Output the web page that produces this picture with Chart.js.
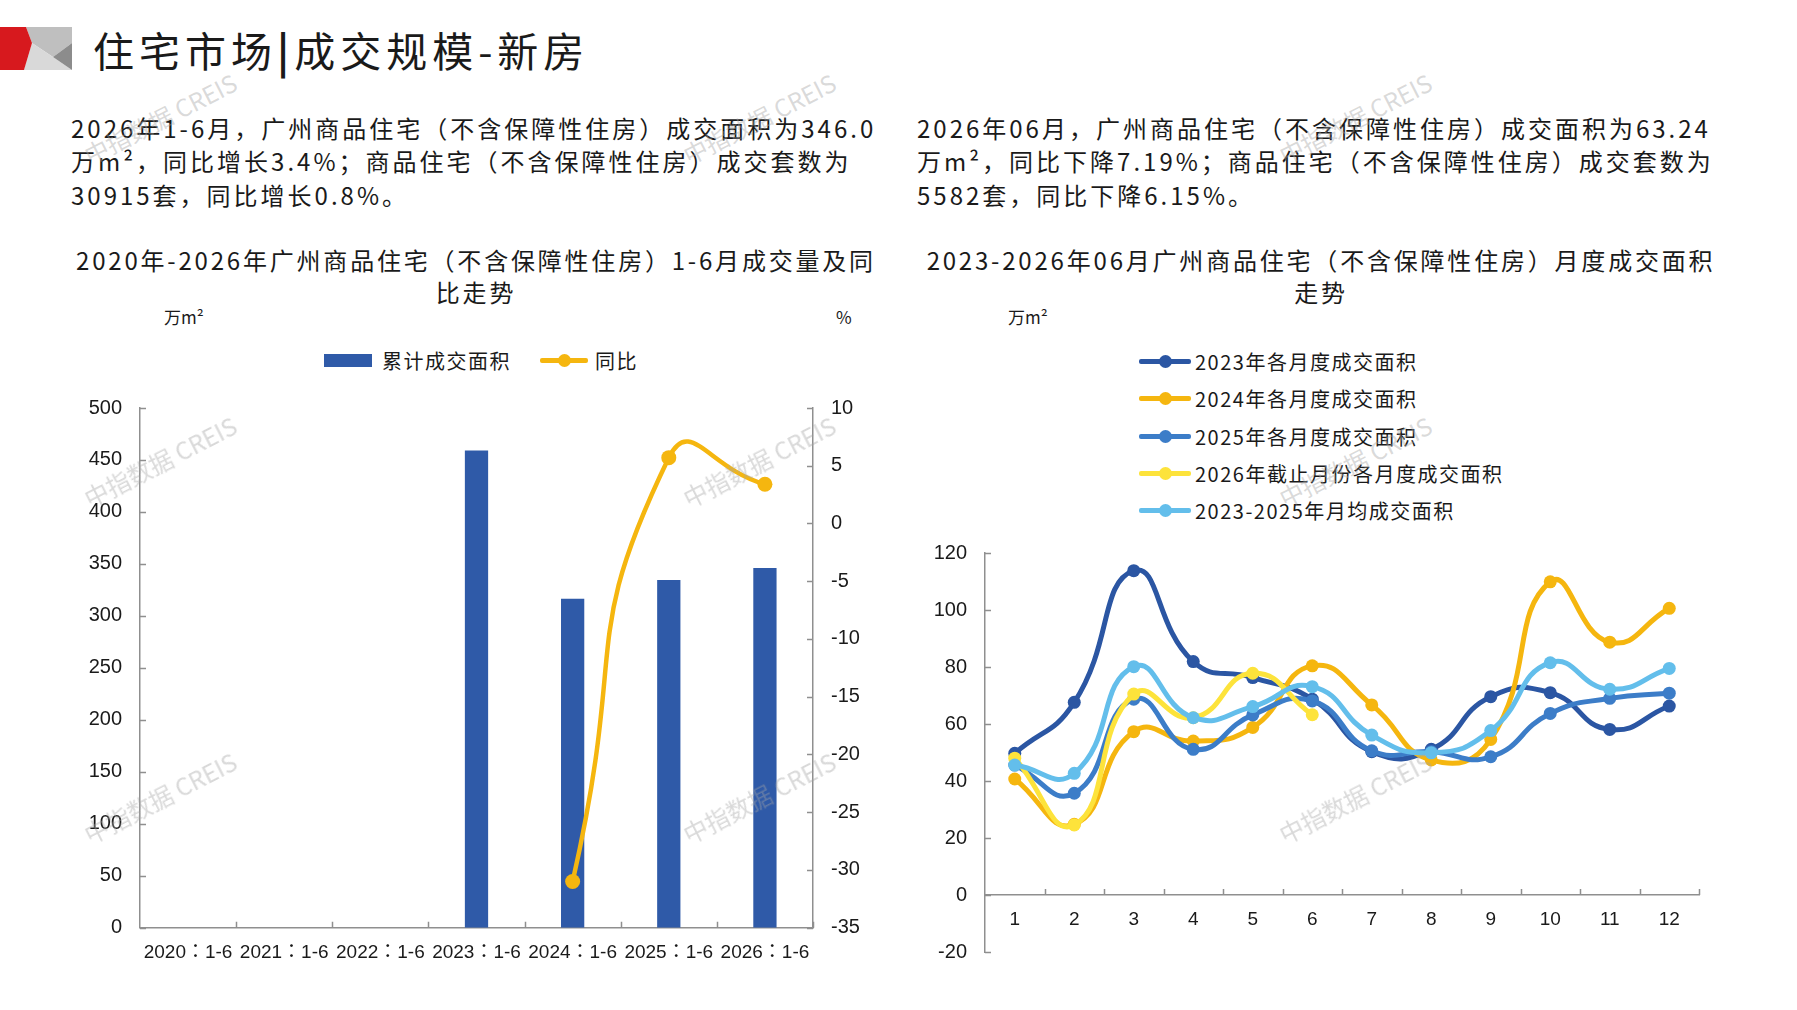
<!DOCTYPE html>
<html lang="zh-CN">
<head>
<meta charset="utf-8">
<title>住宅市场|成交规模-新房</title>
<script src="https://cdn.jsdelivr.net/npm/chart.js@4.4.1/dist/chart.umd.min.js"></script>
<style>
  html, body { margin: 0; padding: 0; background: #fff; }
  body {
    width: 1797px; height: 1010px; position: relative; overflow: hidden;
    font-family: "Noto Sans CJK SC", "Noto Sans", sans-serif; color: #1a1a1a;
  }
  .abs { position: absolute; white-space: nowrap; }
  #logo { left: 0; top: 27px; }
  #title { left: 93px; top: 21px; font-size: 41px; line-height: 56px; letter-spacing: 5px; }
  #title b { font-weight: 700; }
  .para { top: 111px; font-size: 24px; line-height: 33.3px; letter-spacing: 3px; }
  .ctitle { top: 244px; width: 1000px; font-size: 24px; line-height: 32px; letter-spacing: 2.8px; text-align: center; }
  .unit { top: 306px; font-size: 17px; line-height: 22px; }
  canvas { position: absolute; }
  .legend { position: absolute; font-size: 20px; letter-spacing: 1.5px; }
  .lg-item { display: flex; align-items: center; height: 37.25px; }
  .sw-box { display: inline-block; width: 48px; height: 13px; margin-right: 10px; }
  .sw-line { position: relative; display: inline-block; height: 5px; border-radius: 2px; }
  .sw-line::after {
    content: ""; position: absolute; left: 50%; top: 50%; width: 13px; height: 13px;
    margin: -6.5px 0 0 -6.5px; border-radius: 50%; background: var(--c);
  }
  .wm {
    position: absolute; font-size: 24px; color: rgba(165,165,165,0.42);
    transform: translate(-50%, -50%) rotate(-27deg); white-space: nowrap; pointer-events: none;
    font-family: "Noto Sans CJK SC", "Liberation Sans", sans-serif;
  }
</style>
</head>
<body>

<svg id="logo" class="abs" width="74" height="46" viewBox="0 0 74 46">
  <polygon points="24,0 72,0 72,16 53,30 32,16 26,0" fill="#bfbfbf"/>
  <polygon points="32,16 53,30 72,43 24,43" fill="#d9d9d9"/>
  <polygon points="72,16 53,30 72,43" fill="#8c8c8c"/>
  <polygon points="0,0 26,0 32,16 24,43 0,43" fill="#d7191e"/>
</svg>
<div id="title" class="abs">住宅市场<b>|</b>成交规模-新房</div>

<div class="abs para" style="left:71px">2026年1-6月，广州商品住宅（不含保障性住房）成交面积为346.0<br>万m²，同比增长3.4%；商品住宅（不含保障性住房）成交套数为<br>30915套，同比增长0.8%。</div>
<div class="abs para" style="left:917px">2026年06月，广州商品住宅（不含保障性住房）成交面积为63.24<br>万m²，同比下降7.19%；商品住宅（不含保障性住房）成交套数为<br>5582套，同比下降6.15%。</div>

<div class="abs ctitle" style="left:-24px">2020年-2026年广州商品住宅（不含保障性住房）1-6月成交量及同<br>比走势</div>
<div class="abs ctitle" style="left:821px">2023-2026年06月广州商品住宅（不含保障性住房）月度成交面积<br>走势</div>

<div class="abs unit" style="left:164px">万m²</div>
<div class="abs unit" style="left:836px">%</div>
<div class="abs unit" style="left:1008px">万m²</div>

<canvas id="cumChart" width="900" height="610" style="left:0;top:390px;width:900px;height:610px"></canvas>
<canvas id="monthChart" width="897" height="470" style="left:900px;top:530px;width:897px;height:470px"></canvas>

<div id="cumLegend" class="legend" style="left:324px;top:342px;display:flex"></div>
<div id="monthLegend" class="legend" style="left:1139px;top:343px"></div>

<div id="marks"></div>

<script>
// ── Data ─────────────────────────────────────────────────────────────────────
const yearLabels = ['2020：1-6', '2021：1-6', '2022：1-6', '2023：1-6', '2024：1-6', '2025：1-6', '2026：1-6'];
const cumArea    = [null, null, null, 459.0, 316.6, 334.6, 346.0];   // 万m²
const yoyPct     = [null, null, null, null, -31.0, 5.7, 3.4];        // %

const monthLabels = ['1', '2', '3', '4', '5', '6', '7', '8', '9', '10', '11', '12'];
const area2023 = [49.7, 67.6, 113.8, 81.9, 76.3, 68.7, 50.3, 51.1, 69.6, 71.0, 58.1, 66.3];
const area2024 = [40.7, 24.8, 57.3, 54.0, 58.8, 80.4, 66.7, 47.4, 54.6, 109.9, 88.7, 100.6];
const area2025 = [45.6, 35.7, 68.7, 51.1, 63.2, 68.1, 50.6, 50.3, 48.5, 63.7, 69.0, 70.8];
const area2026 = [48.0, 24.6, 70.5, 62.2, 77.8, 63.24, null, null, null, null, null, null];
const areaAvg  = [45.6, 42.7, 80.1, 62.2, 66.1, 73.1, 56.1, 49.9, 57.7, 81.5, 72.2, 79.5];

// ── Style ────────────────────────────────────────────────────────────────────
const INK    = '#1a1a1a';
const AXIS   = '#8f8f8f';
const BLUE   = '#2f5aa8';
const GOLD   = '#f5b60f';
const DARK   = '#2b56a3';
const MID    = '#3c7dc8';
const YELLOW = '#fde33b';
const LIGHT  = '#63beeb';
const TICK_FAMILY = '"Liberation Sans", "Noto Sans CJK TC", sans-serif';

// Excel style "inside" tick marks, drawn from the scales
const innerTicks = {
  id: 'innerTicks',
  beforeDatasetsDraw(chart) {
    const { ctx } = chart;
    const len = 6;
    ctx.save();
    ctx.strokeStyle = AXIS;
    ctx.lineWidth = 1.5;
    ctx.beginPath();
    Object.values(chart.scales).forEach(scale => {
      if (scale.axis === 'y') {
        const left = scale.position === 'left';
        const x0 = left ? scale.right : scale.left;
        scale.ticks.forEach((t, i) => {
          const y = Math.round(scale.getPixelForTick(i)) + 0.5;
          ctx.moveTo(x0, y);
          ctx.lineTo(x0 + (left ? len : -len), y);
        });
      } else {
        const pos = scale.options.position;
        let y0 = scale.top;
        if (typeof pos === 'object') {
          const id = Object.keys(pos)[0];
          y0 = chart.scales[id].getPixelForValue(pos[id]);
        }
        const n = scale.ticks.length;
        for (let i = 1; i <= n; i++) {
          const x = Math.round(scale.left + i * scale.width / n) + 0.5;
          ctx.moveTo(x, y0);
          ctx.lineTo(x, y0 - len);
        }
      }
    });
    ctx.stroke();
    ctx.restore();
  }
};

const tickFont = size => ({ family: TICK_FAMILY, size });
const plainGrid = { display: false, drawTicks: false };
const axisBorder = { color: AXIS, width: 1.5 };

// fixed axis width; drop the label overhang so layout padding sets the plot edges
const fixWidth = w => s => { s.width = w; s.paddingTop = 0; s.paddingBottom = 0; };

// ── Left: cumulative Jan-Jun area and YoY ────────────────────────────────────
const cumChart = new Chart(document.getElementById('cumChart'), {
  data: {
    labels: yearLabels,
    datasets: [
      {
        type: 'bar', label: '累计成交面积', data: cumArea, yAxisID: 'y',
        backgroundColor: BLUE, barPercentage: 0.242, categoryPercentage: 1, order: 1
      },
      {
        type: 'line', label: '同比', data: yoyPct, yAxisID: 'y1',
        borderColor: GOLD, backgroundColor: GOLD, borderWidth: 4.5,
        pointRadius: 7.5, pointBackgroundColor: GOLD, pointBorderWidth: 0,
        tension: 0.58, spanGaps: true, order: 0
      }
    ]
  },
  options: {
    responsive: false,
    animation: false,
    layout: { padding: { top: 18, right: 0, bottom: 0, left: 0 } },
    plugins: { legend: { display: false }, tooltip: { enabled: false } },
    scales: {
      x: {
        grid: plainGrid, border: axisBorder,
        ticks: { font: tickFont(19), color: INK, padding: 14, maxRotation: 0, autoSkip: false },
        afterFit: s => { s.height = 72.3; }
      },
      y: {
        position: 'left', min: 0, max: 500,
        grid: plainGrid, border: axisBorder,
        ticks: { stepSize: 50, font: tickFont(20), color: INK, padding: 18 },
        afterFit: fixWidth(140)
      },
      y1: {
        position: 'right', min: -35, max: 10,
        grid: plainGrid, border: axisBorder,
        ticks: { stepSize: 5, font: tickFont(20), color: INK, padding: 18 },
        afterFit: fixWidth(87)
      }
    }
  },
  plugins: [innerTicks]
});

// ── Right: monthly area 2023-2026 ────────────────────────────────────────────
const monthSeries = [
  { label: '2023年各月度成交面积', data: area2023, color: DARK },
  { label: '2024年各月度成交面积', data: area2024, color: GOLD },
  { label: '2025年各月度成交面积', data: area2025, color: MID },
  { label: '2026年截止月份各月度成交面积', data: area2026, color: YELLOW },
  { label: '2023-2025年月均成交面积', data: areaAvg, color: LIGHT }
];

const monthChart = new Chart(document.getElementById('monthChart'), {
  type: 'line',
  data: {
    labels: monthLabels,
    datasets: monthSeries.map((s, i) => ({
      label: s.label,
      data: s.data,
      borderColor: s.color,
      backgroundColor: s.color,
      borderWidth: 5,
      pointRadius: 6.5,
      pointBackgroundColor: s.color,
      pointBorderWidth: 0,
      tension: 0.5,
      spanGaps: true,
      order: monthSeries.length - i   // later series drawn on top
    }))
  },
  options: {
    responsive: false,
    animation: false,
    layout: { padding: { top: 23, right: 98, bottom: 48, left: 0 } },
    plugins: { legend: { display: false }, tooltip: { enabled: false } },
    scales: {
      x: {
        position: { y: 0 }, offset: true,
        grid: plainGrid, border: axisBorder,
        ticks: { font: tickFont(19), color: INK, padding: 13, maxRotation: 0, autoSkip: false }
      },
      y: {
        min: -20, max: 120,
        grid: plainGrid, border: axisBorder,
        ticks: { stepSize: 20, font: tickFont(20), color: INK, padding: 18 },
        afterFit: fixWidth(85)
      }
    }
  },
  plugins: [innerTicks]
});

// ── HTML legends built from the chart datasets ───────────────────────────────
function buildLegend(el, chart, lineWidth, gaps) {
  chart.data.datasets.forEach((ds, i) => {
    const item = document.createElement('div');
    item.className = 'lg-item';
    if (i > 0 && gaps.between) item.style.marginLeft = gaps.between + 'px';
    const sw = document.createElement('span');
    if (ds.type === 'bar') {
      sw.className = 'sw-box';
      sw.style.background = ds.backgroundColor;
    } else {
      sw.className = 'sw-line';
      sw.style.width = lineWidth + 'px';
      sw.style.background = ds.borderColor;
      sw.style.setProperty('--c', ds.borderColor);
      sw.style.marginRight = gaps.text + 'px';
    }
    const txt = document.createElement('span');
    txt.textContent = ds.label;
    item.appendChild(sw);
    item.appendChild(txt);
    el.appendChild(item);
  });
}
buildLegend(document.getElementById('cumLegend'), cumChart, 48, { between: 29, text: 7 });
buildLegend(document.getElementById('monthLegend'), monthChart, 52, { between: 0, text: 4 });

// ── Watermarks ───────────────────────────────────────────────────────────────
const marks = document.getElementById('marks');
[160, 759, 1355].forEach(x => {
  [118, 461, 797].forEach(y => {
    const d = document.createElement('div');
    d.className = 'wm';
    d.style.left = x + 'px';
    d.style.top = y + 'px';
    d.textContent = '中指数据 CREIS';
    marks.appendChild(d);
  });
});
</script>
</body>
</html>
